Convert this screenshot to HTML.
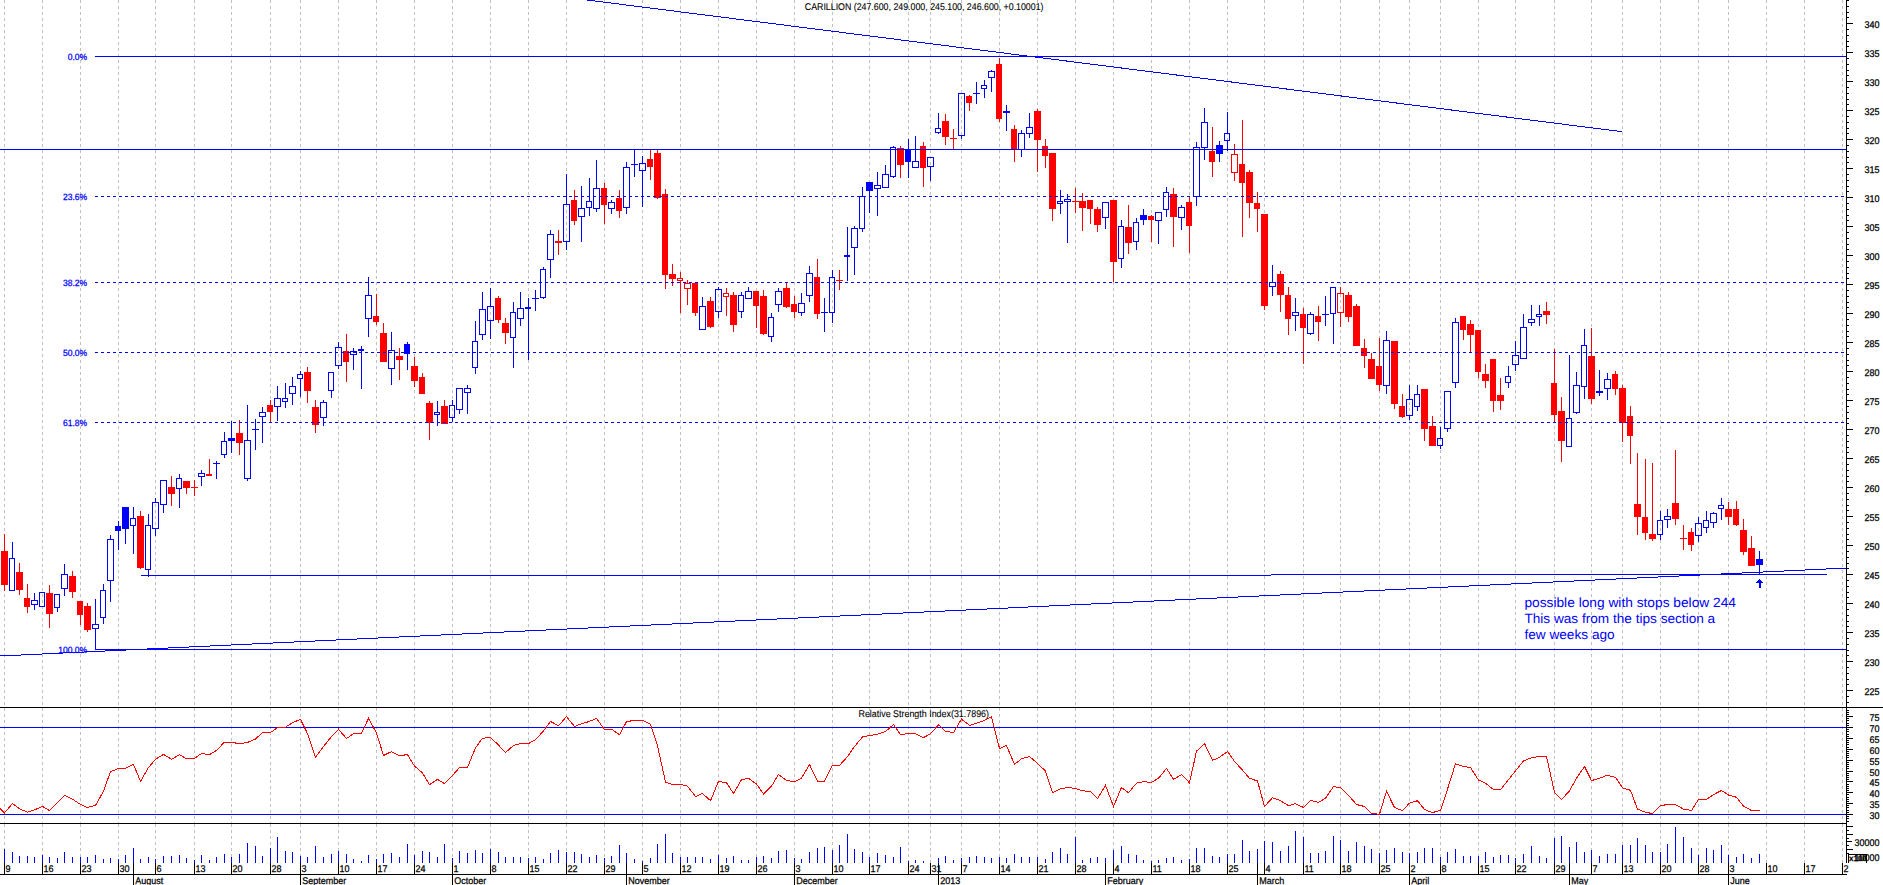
<!DOCTYPE html><html><head><meta charset="utf-8"><title>CARILLION chart</title>
<style>html,body{margin:0;padding:0;background:#fff;overflow:hidden}svg{display:block}text{font-family:"Liberation Sans",sans-serif}</style></head><body>
<svg width="1883" height="885" viewBox="0 0 1883 885" shape-rendering="crispEdges">
<rect width="1883" height="885" fill="#fff"/>
<path d="M4.5 0V707M4.5 708V823M4.5 824V863M42.5 0V707M42.5 708V823M42.5 824V863M80.5 0V707M80.5 708V823M80.5 824V863M118.5 0V707M118.5 708V823M118.5 824V863M155.5 0V707M155.5 708V823M155.5 824V863M194.5 0V707M194.5 708V823M194.5 824V863M231.5 0V707M231.5 708V823M231.5 824V863M270.5 0V707M270.5 708V823M270.5 824V863M300.5 0V707M300.5 708V823M300.5 824V863M338.5 0V707M338.5 708V823M338.5 824V863M376.5 0V707M376.5 708V823M376.5 824V863M414.5 0V707M414.5 708V823M414.5 824V863M452.5 0V707M452.5 708V823M452.5 824V863M490.5 0V707M490.5 708V823M490.5 824V863M528.5 0V707M528.5 708V823M528.5 824V863M566.5 0V707M566.5 708V823M566.5 824V863M604.5 0V707M604.5 708V823M604.5 824V863M642.5 0V707M642.5 708V823M642.5 824V863M680.5 0V707M680.5 708V823M680.5 824V863M718.5 0V707M718.5 708V823M718.5 824V863M756.5 0V707M756.5 708V823M756.5 824V863M794.5 0V707M794.5 708V823M794.5 824V863M832.5 0V707M832.5 708V823M832.5 824V863M869.5 0V707M869.5 708V823M869.5 824V863M908.5 0V707M908.5 708V823M908.5 824V863M930.5 0V707M930.5 708V823M930.5 824V863M961.5 0V707M961.5 708V823M961.5 824V863M999.5 0V707M999.5 708V823M999.5 824V863M1037.5 0V707M1037.5 708V823M1037.5 824V863M1075.5 0V707M1075.5 708V823M1075.5 824V863M1113.5 0V707M1113.5 708V823M1113.5 824V863M1151.5 0V707M1151.5 708V823M1151.5 824V863M1189.5 0V707M1189.5 708V823M1189.5 824V863M1227.5 0V707M1227.5 708V823M1227.5 824V863M1264.5 0V707M1264.5 708V823M1264.5 824V863M1303.5 0V707M1303.5 708V823M1303.5 824V863M1340.5 0V707M1340.5 708V823M1340.5 824V863M1379.5 0V707M1379.5 708V823M1379.5 824V863M1409.5 0V707M1409.5 708V823M1409.5 824V863M1440.5 0V707M1440.5 708V823M1440.5 824V863M1478.5 0V707M1478.5 708V823M1478.5 824V863M1515.5 0V707M1515.5 708V823M1515.5 824V863M1554.5 0V707M1554.5 708V823M1554.5 824V863M1591.5 0V707M1591.5 708V823M1591.5 824V863M1622.5 0V707M1622.5 708V823M1622.5 824V863M1660.5 0V707M1660.5 708V823M1660.5 824V863M1698.5 0V707M1698.5 708V823M1698.5 824V863M1728.5 0V707M1728.5 708V823M1728.5 824V863M1766.5 0V707M1766.5 708V823M1766.5 824V863M1804.5 0V707M1804.5 708V823M1804.5 824V863M1842.5 0V707M1842.5 708V823M1842.5 824V863" stroke="#c0c0c0" stroke-width="1" stroke-dasharray="3 3" fill="none"/>
<path d="M4.5 534V591M19.5 563V595M27.5 584V613M49.5 585V628M72.5 571V598M80.5 601V625M87.5 603V632M140.5 511V569M171.5 476V506M186.5 481V494M194.5 480V496M209.5 459V476M239.5 420V455M270.5 400V422M307.5 367V403M315.5 400V433M346.5 334V382M376.5 294V325M383.5 323V362M399.5 348V380M414.5 357V387M422.5 373V394M429.5 401V440M444.5 400V424M498.5 296V323M505.5 318V344M558.5 230V255M574.5 190V225M604.5 183V224M619.5 190V218M650.5 149V180M657.5 149V199M665.5 189V289M672.5 264V286M680.5 272V278M680.5 281V313M687.5 280V283M687.5 289V305M695.5 283V316M710.5 297V328M726.5 288V293M726.5 297V316M733.5 292V332M756.5 291V328M763.5 290V335M786.5 282V308M794.5 296V318M817.5 259V319M839.5 270V290M900.5 146V178M923.5 142V187M945.5 114V145M953.5 129V150M969.5 95V111M999.5 58V122M1014.5 125V162M1037.5 109V172M1045.5 139V168M1052.5 153V221M1075.5 188V213M1082.5 193V231M1090.5 200V224M1097.5 207V232M1113.5 200V282M1128.5 205V254M1151.5 215V242M1173.5 188V247M1189.5 196V253M1212.5 127V177M1234.5 144V154M1234.5 173V181M1242.5 120V237M1249.5 170V218M1257.5 192V232M1264.5 214V310M1280.5 271V312M1288.5 287V335M1303.5 308V364M1318.5 306V341M1340.5 287V293M1340.5 313V327M1348.5 292V322M1356.5 304V346M1364.5 339V368M1371.5 353V379M1379.5 338V391M1394.5 341V409M1402.5 394V418M1424.5 389V441M1432.5 416V446M1463.5 316V340M1470.5 320V353M1478.5 330V378M1485.5 364V388M1493.5 359V412M1500.5 378V410M1546.5 302V324M1554.5 349V423M1561.5 397V462M1591.5 328V404M1615.5 371V395M1622.5 385V442M1630.5 406V464M1637.5 453V535M1645.5 459V540M1652.5 463V541M1675.5 450V525M1683.5 525V550M1691.5 528V551M1728.5 502V525M1736.5 501V526M1743.5 519V555M1751.5 536V566" stroke="#ff0000" stroke-width="1" fill="none"/>
<path d="M12.5 542V558M34.5 593V600M34.5 605V610M57.5 608V612M64.5 564V574M64.5 589V596M95.5 599V624M95.5 629V650M103.5 584V590M103.5 618V624M110.5 535V539M110.5 581V602M118.5 521V550M125.5 507V544M133.5 507V518M133.5 526V554M148.5 514V525M148.5 570V577M155.5 498V502M155.5 529V536M163.5 505V513M179.5 474V478M179.5 489V508M201.5 470V473M201.5 477V486M216.5 461V479M224.5 432V441M224.5 455V458M231.5 421V453M247.5 405V440M247.5 479V481M255.5 419V450M262.5 407V412M262.5 417V443M277.5 386V398M277.5 407V421M285.5 383V398M285.5 402V408M292.5 377V386M292.5 394V405M300.5 371V374M300.5 379V397M323.5 400V402M323.5 418V426M331.5 391V398M338.5 342V347M338.5 366V369M353.5 348V351M353.5 355V370M361.5 346V389M368.5 277V295M368.5 319V337M391.5 332V350M391.5 369V385M407.5 342V370M437.5 401V412M437.5 415V426M452.5 400V405M452.5 418V422M459.5 410V414M467.5 385V388M467.5 393V414M475.5 321V341M475.5 368V374M482.5 292V309M482.5 335V340M490.5 288V306M490.5 321V339M513.5 302V312M513.5 338V368M520.5 292V308M520.5 319V326M528.5 298V360M535.5 290V311M543.5 267V269M543.5 298V299M550.5 230V234M550.5 260V278M566.5 174V204M566.5 242V250M581.5 186V208M581.5 217V242M589.5 178V201M589.5 208V216M596.5 160V188M596.5 209V212M611.5 200V202M611.5 209V214M626.5 162V167M626.5 208V214M634.5 149V177M642.5 156V163M642.5 171V207M702.5 297V306M718.5 287V289M718.5 312V318M741.5 292V295M741.5 312V318M748.5 287V291M771.5 313V317M771.5 337V342M778.5 288V291M778.5 305V312M801.5 293V303M801.5 313V316M809.5 266V273M809.5 296V302M824.5 298V332M832.5 270V277M832.5 313V323M847.5 227V281M854.5 226V228M854.5 248V275M862.5 187V196M862.5 229V232M869.5 182V213M877.5 172V185M877.5 189V216M885.5 165V174M893.5 146V147M893.5 177V178M908.5 139V178M915.5 136V161M930.5 167V181M938.5 113V128M938.5 133V134M961.5 136V139M976.5 82V104M984.5 80V85M984.5 89V98M991.5 70V71M991.5 78V92M1006.5 105V131M1021.5 130V133M1021.5 150V157M1029.5 113V127M1029.5 134V138M1060.5 190V201M1060.5 204V214M1067.5 194V199M1067.5 202V243M1105.5 218V229M1121.5 220V226M1121.5 259V268M1136.5 218V222M1136.5 242V250M1143.5 209V225M1158.5 221V244M1166.5 187V192M1166.5 210V217M1181.5 205V207M1181.5 218V230M1196.5 142V147M1196.5 197V206M1204.5 108V122M1204.5 148V160M1219.5 141V162M1227.5 112V133M1227.5 141V151M1272.5 265V282M1272.5 287V296M1295.5 298V312M1295.5 316V331M1310.5 312V314M1310.5 334V335M1325.5 296V326M1333.5 314V344M1386.5 331V340M1386.5 386V394M1409.5 385V399M1409.5 416V420M1417.5 385V394M1417.5 407V411M1440.5 427V438M1440.5 446V449M1447.5 429V432M1455.5 318V322M1455.5 383V388M1508.5 366V376M1508.5 383V388M1515.5 341V355M1515.5 365V371M1523.5 314V327M1531.5 305V319M1531.5 323V326M1539.5 305V314M1539.5 317V326M1569.5 355V418M1576.5 372V385M1576.5 413V414M1584.5 329V345M1584.5 387V399M1599.5 370V391M1599.5 393V396M1607.5 373V379M1607.5 389V400M1660.5 511V520M1660.5 535V540M1667.5 509V516M1667.5 520V528M1698.5 517V523M1698.5 536V542M1706.5 511V520M1706.5 528V533M1713.5 512V513M1713.5 523V528M1721.5 498V505M1721.5 509V520M1759.5 551V575" stroke="#0000ff" stroke-width="1" fill="none"/>
<path d="M1 551h7V585h-7zM16 572h7V590h-7zM24 598h6V607h-6zM46 593h7V614h-7zM69 576h7V592h-7zM77 601h6V615h-6zM84 606h7V630h-7zM137 516h7V568h-7zM168 487h7V494h-7zM183 481h7V488h-7zM191 487h7v1h-7zM206 474h6V476h-6zM236 433h7V443h-7zM267 405h6V412h-6zM304 372h7V391h-7zM312 407h7V425h-7zM343 351h6V362h-6zM373 316h6V322h-6zM380 333h7V362h-7zM396 356h7V360h-7zM411 366h7V381h-7zM419 377h6V394h-6zM426 403h7V423h-7zM441 406h7V424h-7zM495 298h6V320h-6zM502 323h7V333h-7zM555 241h7V243h-7zM571 200h6V221h-6zM601 188h6V205h-6zM616 198h6V211h-6zM647 159h6V167h-6zM654 153h7V198h-7zM662 194h6V275h-6zM669 274h7V279h-7zM692 283h6V313h-6zM707 301h7V327h-7zM730 295h7V325h-7zM753 291h6V306h-6zM760 296h7V334h-7zM783 288h7V307h-7zM791 304h6V312h-6zM814 277h6V314h-6zM836 280h7v1h-7zM897 148h7V165h-7zM920 146h6V168h-6zM942 121h7V137h-7zM950 138h7v1h-7zM966 96h6V103h-6zM996 64h6V119h-6zM1011 129h6V149h-6zM1034 111h7V140h-7zM1042 146h6V156h-6zM1049 153h7V209h-7zM1072 201h7v1h-7zM1079 201h7V208h-7zM1087 200h6V209h-6zM1094 209h7V225h-7zM1110 200h7V262h-7zM1125 227h7V243h-7zM1148 216h6V220h-6zM1170 194h7V217h-7zM1186 202h6V226h-6zM1209 151h6V162h-6zM1239 164h6V183h-6zM1246 172h7V203h-7zM1254 203h6V209h-6zM1261 214h7V306h-7zM1277 274h7V295h-7zM1285 295h6V319h-6zM1300 314h6V328h-6zM1315 316h6V322h-6zM1345 295h7V317h-7zM1353 306h7V346h-7zM1361 348h6V356h-6zM1368 359h7V379h-7zM1376 366h6V385h-6zM1391 341h7V404h-7zM1399 406h6V417h-6zM1421 389h7V429h-7zM1429 426h7V446h-7zM1460 316h6V330h-6zM1467 324h7V335h-7zM1475 330h6V372h-6zM1482 374h7V381h-7zM1490 359h6V401h-6zM1497 395h7V401h-7zM1543 311h7V315h-7zM1551 383h6V415h-6zM1558 411h7V441h-7zM1588 356h7V399h-7zM1612 374h6V389h-6zM1619 388h7V423h-7zM1627 416h6V436h-6zM1634 504h7V517h-7zM1642 517h6V533h-6zM1649 534h7V539h-7zM1672 503h7V519h-7zM1680 538h7v1h-7zM1688 532h6V545h-6zM1725 509h7V517h-7zM1733 509h6V525h-6zM1740 530h7V552h-7zM1748 548h7V566h-7z" fill="#ff0000"/>
<path d="M115 526h6V531h-6zM122 507h7V529h-7zM213 463h7v1h-7zM228 438h7V441h-7zM252 429h7v1h-7zM358 349h6V351h-6zM404 344h6V354h-6zM525 307h6V309h-6zM532 298h7v1h-7zM631 164h7v1h-7zM821 312h7v1h-7zM844 255h6V257h-6zM866 182h7V191h-7zM905 149h6V162h-6zM973 93h7v1h-7zM1003 111h7V113h-7zM1140 215h7V220h-7zM1216 145h7V154h-7zM1322 314h7v1h-7zM1756 559h7V565h-7z" fill="#0000ff"/>
<path d="M9.5 558.5h5v32h-5zM31.5 600.5h6v4h-6zM39.5 592.5h5v14h-5zM54.5 594.5h5v13h-5zM61.5 574.5h6v14h-6zM92.5 624.5h6v4h-6zM100.5 590.5h5v27h-5zM107.5 539.5h6v41h-6zM130.5 518.5h5v7h-5zM145.5 525.5h5v44h-5zM152.5 502.5h6v26h-6zM160.5 480.5h6v24h-6zM176.5 478.5h5v10h-5zM198.5 473.5h6v3h-6zM221.5 441.5h5v13h-5zM244.5 440.5h6v38h-6zM259.5 412.5h6v4h-6zM274.5 398.5h6v8h-6zM282.5 398.5h5v3h-5zM289.5 386.5h6v7h-6zM297.5 374.5h5v4h-5zM320.5 402.5h6v15h-6zM328.5 372.5h5v18h-5zM335.5 347.5h6v18h-6zM350.5 351.5h6v3h-6zM365.5 295.5h6v23h-6zM388.5 350.5h6v18h-6zM434.5 412.5h5v2h-5zM449.5 405.5h5v12h-5zM456.5 388.5h6v21h-6zM464.5 388.5h6v4h-6zM472.5 341.5h5v26h-5zM479.5 309.5h6v25h-6zM487.5 306.5h6v14h-6zM510.5 312.5h5v25h-5zM517.5 308.5h6v10h-6zM540.5 269.5h5v28h-5zM547.5 234.5h6v25h-6zM563.5 204.5h6v37h-6zM578.5 208.5h6v8h-6zM586.5 201.5h5v6h-5zM593.5 188.5h6v20h-6zM608.5 202.5h6v6h-6zM623.5 167.5h6v40h-6zM639.5 163.5h6v7h-6zM699.5 306.5h6v23h-6zM715.5 289.5h6v22h-6zM738.5 295.5h5v16h-5zM745.5 291.5h6v7h-6zM768.5 317.5h5v19h-5zM775.5 291.5h6v13h-6zM798.5 303.5h6v9h-6zM806.5 273.5h6v22h-6zM829.5 277.5h5v35h-5zM851.5 228.5h6v19h-6zM859.5 196.5h5v32h-5zM874.5 185.5h6v3h-6zM882.5 174.5h6v13h-6zM890.5 147.5h5v29h-5zM912.5 161.5h6v6h-6zM927.5 157.5h6v9h-6zM935.5 128.5h5v4h-5zM958.5 93.5h6v42h-6zM981.5 85.5h5v3h-5zM988.5 71.5h6v6h-6zM1018.5 133.5h6v16h-6zM1026.5 127.5h6v6h-6zM1057.5 201.5h5v2h-5zM1064.5 199.5h6v2h-6zM1102.5 202.5h6v15h-6zM1118.5 226.5h5v32h-5zM1133.5 222.5h5v19h-5zM1155.5 212.5h6v8h-6zM1163.5 192.5h5v17h-5zM1178.5 207.5h6v10h-6zM1193.5 147.5h6v49h-6zM1201.5 122.5h6v25h-6zM1224.5 133.5h5v7h-5zM1269.5 282.5h6v4h-6zM1292.5 312.5h6v3h-6zM1307.5 314.5h6v19h-6zM1330.5 287.5h5v26h-5zM1383.5 340.5h6v45h-6zM1406.5 399.5h6v16h-6zM1414.5 394.5h5v12h-5zM1437.5 438.5h5v7h-5zM1444.5 391.5h6v37h-6zM1452.5 322.5h6v60h-6zM1505.5 376.5h5v6h-5zM1512.5 355.5h6v9h-6zM1520.5 327.5h6v31h-6zM1528.5 319.5h6v3h-6zM1536.5 314.5h5v2h-5zM1566.5 418.5h5v28h-5zM1573.5 385.5h6v27h-6zM1581.5 345.5h5v41h-5zM1596.5 391.5h6v1h-6zM1604.5 379.5h6v9h-6zM1657.5 520.5h5v14h-5zM1664.5 516.5h6v3h-6zM1695.5 523.5h6v12h-6zM1703.5 520.5h5v7h-5zM1710.5 513.5h6v9h-6zM1718.5 505.5h5v3h-5z" stroke="#0000ff" stroke-width="1" fill="none"/>
<path d="M677.5 278.5h5v2h-5zM684.5 283.5h6v5h-6zM723.5 293.5h5v3h-5zM1231.5 154.5h6v18h-6zM1337.5 293.5h6v19h-6z" stroke="#ff0000" stroke-width="1" fill="none"/>
<path d="M95 56.5H1846M0 149.5H1846M95 649.5H1846M141 575.5L1827 574.766M0 727.5H1846M0 814.5H1846" stroke="#0000ff" stroke-width="1" fill="none"/>
<path d="M95 196.5H1846M95 282.5H1846M95 352.5H1846M95 422.5H1846" stroke="#0000ff" stroke-width="1" stroke-dasharray="3 3" fill="none"/>
<path d="M587.1 0L1622 131.7M0 656.02L1846 568.05" stroke="#0000ff" stroke-width="1" fill="none"/>
<path d="M1759 579h1v1h1v1h1v1h1v1h-2v5h-2v-5h-3v-1h1v-1h1v-1h1z" fill="#0000ff"/>
<polyline points="-3.6,804.7 4.5,812.9 12.5,803.4 19.5,808.8 27.5,812.2 34.5,809.9 42.5,806.4 49.5,810.6 57.5,802.7 64.5,795.3 72.5,799.1 80.5,804.5 87.5,807.5 95.5,805.4 103.5,791.2 110.5,771.5 118.5,768.6 125.5,768.1 133.5,764.4 140.5,781.4 148.5,767.5 155.5,759.3 163.5,754.3 171.5,759.3 179.5,754.6 186.5,758.7 194.5,758.4 201.5,753.5 209.5,754.6 216.5,750.5 224.5,742.1 231.5,742.3 239.5,743.7 247.5,742.4 255.5,739.0 262.5,732.6 270.5,732.6 277.5,727.5 285.5,727.2 292.5,722.7 300.5,719.3 307.5,733.6 315.5,757.3 323.5,746.5 331.5,736.6 338.5,729.2 346.5,738.6 353.5,733.6 361.5,733.3 368.5,718.4 376.5,732.9 383.5,755.5 391.5,751.6 399.5,755.7 407.5,754.6 414.5,766.1 422.5,772.9 429.5,784.7 437.5,779.4 444.5,783.7 452.5,775.6 459.5,767.5 467.5,767.5 475.5,747.8 482.5,738.3 490.5,737.4 498.5,745.1 505.5,752.6 513.5,745.4 520.5,743.7 528.5,743.5 535.5,739.7 543.5,730.9 550.5,721.4 558.5,725.7 566.5,716.6 574.5,726.5 581.5,723.8 589.5,721.4 596.5,718.4 604.5,729.5 611.5,729.2 619.5,734.7 626.5,721.6 634.5,720.4 642.5,720.4 650.5,724.1 657.5,745.8 665.5,782.1 672.5,784.4 680.5,784.4 687.5,786.1 695.5,796.6 702.5,793.5 710.5,800.7 718.5,781.4 726.5,782.7 733.5,793.5 741.5,779.7 748.5,778.3 756.5,784.1 763.5,793.9 771.5,786.2 778.5,774.5 786.5,780.4 794.5,781.7 801.5,778.1 809.5,764.5 817.5,781.4 824.5,781.4 832.5,765.4 839.5,765.4 847.5,756.6 854.5,746.5 862.5,737.0 869.5,735.6 877.5,734.3 885.5,731.5 893.5,724.5 900.5,734.5 908.5,733.6 915.5,733.6 923.5,737.6 930.5,733.8 938.5,724.8 945.5,731.3 953.5,732.6 961.5,719.1 969.5,725.4 976.5,723.1 984.5,720.4 991.5,716.9 999.5,748.5 1006.5,745.5 1014.5,764.5 1021.5,758.7 1029.5,756.6 1037.5,763.4 1045.5,771.1 1052.5,792.6 1060.5,788.9 1067.5,787.4 1075.5,788.5 1082.5,790.8 1090.5,791.5 1097.5,798.7 1105.5,785.4 1113.5,806.4 1121.5,787.4 1128.5,792.8 1136.5,783.1 1143.5,781.7 1151.5,782.4 1158.5,778.3 1166.5,768.4 1173.5,779.4 1181.5,774.7 1189.5,782.8 1196.5,751.2 1204.5,743.5 1212.5,760.4 1219.5,757.3 1227.5,751.5 1234.5,761.4 1242.5,770.2 1249.5,778.3 1257.5,781.0 1264.5,806.5 1272.5,797.7 1280.5,800.7 1288.5,805.7 1295.5,803.7 1303.5,807.5 1310.5,800.4 1318.5,802.5 1325.5,798.3 1333.5,786.5 1340.5,787.8 1348.5,795.3 1356.5,804.5 1364.5,806.5 1371.5,813.3 1379.5,814.3 1386.5,791.2 1394.5,807.5 1402.5,810.6 1409.5,803.1 1417.5,800.7 1424.5,809.5 1432.5,812.6 1440.5,810.2 1447.5,789.2 1455.5,763.7 1463.5,766.5 1470.5,767.5 1478.5,780.1 1485.5,783.1 1493.5,789.6 1500.5,789.6 1508.5,779.7 1515.5,770.9 1523.5,761.0 1531.5,757.7 1539.5,756.4 1546.5,756.4 1554.5,792.3 1561.5,799.6 1569.5,790.9 1576.5,778.3 1584.5,766.5 1591.5,780.6 1599.5,778.3 1607.5,775.2 1615.5,777.4 1622.5,787.8 1630.5,790.3 1637.5,809.2 1645.5,812.2 1652.5,813.6 1660.5,805.7 1667.5,804.5 1675.5,804.5 1683.5,809.1 1691.5,810.5 1698.5,799.3 1706.5,799.3 1713.5,794.6 1721.5,790.5 1728.5,795.0 1736.5,797.3 1743.5,806.1 1751.5,810.5 1759.5,810.5" stroke="#ff0000" stroke-width="1" fill="none"/>
<path d="M4.5 849V863M12.5 852V863M19.5 856V863M27.5 856V863M34.5 857V863M42.5 855V863M49.5 857V863M57.5 858V863M64.5 852V863M72.5 857V863M80.5 857V863M87.5 857V863M95.5 855V863M103.5 859V863M110.5 858V863M118.5 859V863M125.5 855V863M133.5 848V863M140.5 859V863M148.5 857V863M155.5 859V863M163.5 856V863M171.5 856V863M179.5 855V863M186.5 858V863M194.5 860V863M201.5 855V863M209.5 860V863M216.5 857V863M224.5 854V863M231.5 857V863M239.5 854V863M247.5 843V863M255.5 846V863M262.5 856V863M270.5 848V863M277.5 837V863M285.5 851V863M292.5 852V863M300.5 856V863M307.5 857V863M315.5 846V863M323.5 857V863M331.5 854V863M338.5 851V863M346.5 854V863M353.5 859V863M361.5 861V863M368.5 855V863M376.5 859V863M383.5 854V863M391.5 853V863M399.5 857V863M407.5 844V863M414.5 855V863M422.5 851V863M429.5 852V863M437.5 857V863M444.5 844V863M452.5 858V863M459.5 851V863M467.5 853V863M475.5 850V863M482.5 853V863M490.5 849V863M498.5 852V863M505.5 857V863M513.5 857V863M520.5 857V863M528.5 858V863M535.5 857V863M543.5 859V863M550.5 853V863M558.5 850V863M566.5 852V863M574.5 852V863M581.5 854V863M589.5 857V863M596.5 855V863M604.5 858V863M611.5 856V863M619.5 845V863M626.5 853V863M634.5 859V863M642.5 861V863M650.5 858V863M657.5 844V863M665.5 834V863M672.5 853V863M680.5 857V863M687.5 857V863M695.5 857V863M702.5 857V863M710.5 859V863M718.5 855V863M726.5 858V863M733.5 856V863M741.5 860V863M748.5 860V863M756.5 857V863M763.5 856V863M771.5 858V863M778.5 851V863M786.5 850V863M794.5 858V863M801.5 859V863M809.5 852V863M817.5 848V863M824.5 847V863M832.5 850V863M839.5 845V863M847.5 834V863M854.5 849V863M862.5 852V863M869.5 857V863M877.5 853V863M885.5 855V863M893.5 857V863M900.5 847V863M908.5 861V863M915.5 860V863M923.5 861V863M938.5 858V863M945.5 856V863M953.5 860V863M961.5 858V863M969.5 857V863M976.5 856V863M984.5 857V863M991.5 858V863M999.5 857V863M1006.5 858V863M1014.5 854V863M1021.5 857V863M1029.5 857V863M1037.5 857V863M1045.5 859V863M1052.5 852V863M1060.5 848V863M1067.5 854V863M1075.5 837V863M1082.5 860V863M1090.5 858V863M1097.5 857V863M1105.5 858V863M1113.5 850V863M1121.5 846V863M1128.5 854V863M1136.5 855V863M1143.5 860V863M1151.5 861V863M1158.5 860V863M1166.5 858V863M1173.5 857V863M1181.5 860V863M1189.5 859V863M1196.5 848V863M1204.5 848V863M1212.5 856V863M1219.5 857V863M1227.5 854V863M1234.5 854V863M1242.5 840V863M1249.5 851V863M1257.5 849V863M1264.5 841V863M1272.5 842V863M1280.5 851V863M1288.5 846V863M1295.5 831V863M1303.5 837V863M1310.5 853V863M1318.5 853V863M1325.5 851V863M1333.5 836V863M1340.5 840V863M1348.5 851V863M1356.5 842V863M1364.5 846V863M1371.5 849V863M1379.5 853V863M1386.5 850V863M1394.5 848V863M1402.5 852V863M1409.5 853V863M1417.5 852V863M1424.5 848V863M1432.5 848V863M1440.5 857V863M1447.5 852V863M1455.5 849V863M1463.5 856V863M1470.5 856V863M1478.5 856V863M1485.5 852V863M1493.5 857V863M1500.5 855V863M1508.5 855V863M1515.5 858V863M1523.5 854V863M1531.5 846V863M1539.5 856V863M1546.5 858V863M1554.5 838V863M1561.5 836V863M1569.5 847V863M1576.5 842V863M1584.5 852V863M1591.5 850V863M1599.5 856V863M1607.5 854V863M1615.5 854V863M1622.5 845V863M1630.5 845V863M1637.5 838V863M1645.5 845V863M1652.5 852V863M1660.5 852V863M1667.5 844V863M1675.5 827V863M1683.5 837V863M1691.5 848V863M1698.5 855V863M1706.5 848V863M1713.5 850V863M1721.5 845V863M1728.5 855V863M1736.5 857V863M1743.5 854V863M1751.5 858V863M1759.5 854V863" stroke="#0000ff" stroke-width="1" fill="none"/>
<path d="M0 707.5H1883M0 823.5H1847M0 874.5H1847M1846.5 0V863M4.5 863V874M42.5 863V874M80.5 863V874M118.5 863V874M155.5 863V874M194.5 863V874M231.5 863V874M270.5 863V874M338.5 863V874M376.5 863V874M414.5 863V874M490.5 863V874M528.5 863V874M566.5 863V874M604.5 863V874M642.5 863V874M680.5 863V874M718.5 863V874M756.5 863V874M832.5 863V874M869.5 863V874M908.5 863V874M930.5 863V874M961.5 863V874M999.5 863V874M1037.5 863V874M1075.5 863V874M1113.5 863V874M1151.5 863V874M1189.5 863V874M1227.5 863V874M1264.5 863V874M1303.5 863V874M1340.5 863V874M1379.5 863V874M1440.5 863V874M1478.5 863V874M1515.5 863V874M1554.5 863V874M1591.5 863V874M1622.5 863V874M1660.5 863V874M1698.5 863V874M1766.5 863V874M1804.5 863V874M1842.5 863V874M133.5 863V885M300.5 863V885M452.5 863V885M626.5 863V885M794.5 863V885M938.5 863V885M1105.5 863V885M1257.5 863V885M1409.5 863V885M1569.5 863V885M1728.5 863V885M1847 0.5h2M1847 6.5h2M1847 12.5h2M1847 17.5h2M1847 23.5h6M1847 29.5h2M1847 35.5h2M1847 41.5h2M1847 46.5h2M1847 52.5h6M1847 58.5h2M1847 64.5h2M1847 70.5h2M1847 75.5h2M1847 81.5h6M1847 87.5h2M1847 93.5h2M1847 99.5h2M1847 104.5h2M1847 110.5h6M1847 116.5h2M1847 122.5h2M1847 128.5h2M1847 133.5h2M1847 139.5h6M1847 145.5h2M1847 151.5h2M1847 157.5h2M1847 162.5h2M1847 168.5h6M1847 174.5h2M1847 180.5h2M1847 186.5h2M1847 191.5h2M1847 197.5h6M1847 203.5h2M1847 209.5h2M1847 215.5h2M1847 220.5h2M1847 226.5h6M1847 232.5h2M1847 238.5h2M1847 244.5h2M1847 249.5h2M1847 255.5h6M1847 261.5h2M1847 267.5h2M1847 273.5h2M1847 278.5h2M1847 284.5h6M1847 290.5h2M1847 296.5h2M1847 302.5h2M1847 307.5h2M1847 313.5h6M1847 319.5h2M1847 325.5h2M1847 331.5h2M1847 336.5h2M1847 342.5h6M1847 348.5h2M1847 354.5h2M1847 360.5h2M1847 365.5h2M1847 371.5h6M1847 377.5h2M1847 383.5h2M1847 389.5h2M1847 394.5h2M1847 400.5h6M1847 406.5h2M1847 412.5h2M1847 418.5h2M1847 423.5h2M1847 429.5h6M1847 435.5h2M1847 441.5h2M1847 447.5h2M1847 452.5h2M1847 458.5h6M1847 464.5h2M1847 470.5h2M1847 476.5h2M1847 481.5h2M1847 487.5h6M1847 493.5h2M1847 499.5h2M1847 505.5h2M1847 510.5h2M1847 516.5h6M1847 522.5h2M1847 528.5h2M1847 534.5h2M1847 539.5h2M1847 545.5h6M1847 551.5h2M1847 557.5h2M1847 563.5h2M1847 568.5h2M1847 574.5h6M1847 580.5h2M1847 586.5h2M1847 592.5h2M1847 597.5h2M1847 603.5h6M1847 609.5h2M1847 615.5h2M1847 621.5h2M1847 626.5h2M1847 632.5h6M1847 638.5h2M1847 644.5h2M1847 650.5h2M1847 655.5h2M1847 661.5h6M1847 667.5h2M1847 673.5h2M1847 679.5h2M1847 684.5h2M1847 690.5h6M1847 696.5h2M1847 702.5h2M1847 821.5h2M1847 818.5h2M1847 816.5h2M1847 814.5h6M1847 812.5h2M1847 810.5h2M1847 807.5h2M1847 805.5h2M1847 803.5h6M1847 801.5h2M1847 799.5h2M1847 797.5h2M1847 794.5h2M1847 792.5h6M1847 790.5h2M1847 788.5h2M1847 786.5h2M1847 784.5h2M1847 781.5h6M1847 779.5h2M1847 777.5h2M1847 775.5h2M1847 773.5h2M1847 771.5h6M1847 768.5h2M1847 766.5h2M1847 764.5h2M1847 762.5h2M1847 760.5h6M1847 757.5h2M1847 755.5h2M1847 753.5h2M1847 751.5h2M1847 749.5h6M1847 747.5h2M1847 744.5h2M1847 742.5h2M1847 740.5h2M1847 738.5h6M1847 736.5h2M1847 734.5h2M1847 731.5h2M1847 729.5h2M1847 727.5h6M1847 725.5h2M1847 723.5h2M1847 720.5h2M1847 718.5h2M1847 716.5h6M1847 714.5h2M1847 712.5h2M1847 710.5h2M1847 826.5h6M1847 830.5h2M1847 834.5h6M1847 838.5h2M1847 841.5h5M1847 845.5h2M1847 849.5h6M1847 853.5h2M1848 854.5H1867M1848.5 854V863M1866.5 854V863" stroke="#000" stroke-width="1" fill="none"/>
<defs><clipPath id="cp"><rect x="0" y="860" width="1846" height="20"/></clipPath></defs>
<g shape-rendering="auto" text-rendering="geometricPrecision"><text transform="translate(1879.5 27.8) scale(0.93 1)" font-size="9.7" fill="#000" text-anchor="end" stroke="#000" stroke-width="0.25">340</text><text transform="translate(1879.5 56.8) scale(0.93 1)" font-size="9.7" fill="#000" text-anchor="end" stroke="#000" stroke-width="0.25">335</text><text transform="translate(1879.5 85.8) scale(0.93 1)" font-size="9.7" fill="#000" text-anchor="end" stroke="#000" stroke-width="0.25">330</text><text transform="translate(1879.5 114.8) scale(0.93 1)" font-size="9.7" fill="#000" text-anchor="end" stroke="#000" stroke-width="0.25">325</text><text transform="translate(1879.5 143.8) scale(0.93 1)" font-size="9.7" fill="#000" text-anchor="end" stroke="#000" stroke-width="0.25">320</text><text transform="translate(1879.5 172.8) scale(0.93 1)" font-size="9.7" fill="#000" text-anchor="end" stroke="#000" stroke-width="0.25">315</text><text transform="translate(1879.5 201.8) scale(0.93 1)" font-size="9.7" fill="#000" text-anchor="end" stroke="#000" stroke-width="0.25">310</text><text transform="translate(1879.5 230.8) scale(0.93 1)" font-size="9.7" fill="#000" text-anchor="end" stroke="#000" stroke-width="0.25">305</text><text transform="translate(1879.5 259.8) scale(0.93 1)" font-size="9.7" fill="#000" text-anchor="end" stroke="#000" stroke-width="0.25">300</text><text transform="translate(1879.5 288.8) scale(0.93 1)" font-size="9.7" fill="#000" text-anchor="end" stroke="#000" stroke-width="0.25">295</text><text transform="translate(1879.5 317.8) scale(0.93 1)" font-size="9.7" fill="#000" text-anchor="end" stroke="#000" stroke-width="0.25">290</text><text transform="translate(1879.5 346.8) scale(0.93 1)" font-size="9.7" fill="#000" text-anchor="end" stroke="#000" stroke-width="0.25">285</text><text transform="translate(1879.5 375.8) scale(0.93 1)" font-size="9.7" fill="#000" text-anchor="end" stroke="#000" stroke-width="0.25">280</text><text transform="translate(1879.5 404.8) scale(0.93 1)" font-size="9.7" fill="#000" text-anchor="end" stroke="#000" stroke-width="0.25">275</text><text transform="translate(1879.5 433.8) scale(0.93 1)" font-size="9.7" fill="#000" text-anchor="end" stroke="#000" stroke-width="0.25">270</text><text transform="translate(1879.5 462.8) scale(0.93 1)" font-size="9.7" fill="#000" text-anchor="end" stroke="#000" stroke-width="0.25">265</text><text transform="translate(1879.5 491.8) scale(0.93 1)" font-size="9.7" fill="#000" text-anchor="end" stroke="#000" stroke-width="0.25">260</text><text transform="translate(1879.5 520.8) scale(0.93 1)" font-size="9.7" fill="#000" text-anchor="end" stroke="#000" stroke-width="0.25">255</text><text transform="translate(1879.5 549.8) scale(0.93 1)" font-size="9.7" fill="#000" text-anchor="end" stroke="#000" stroke-width="0.25">250</text><text transform="translate(1879.5 578.8) scale(0.93 1)" font-size="9.7" fill="#000" text-anchor="end" stroke="#000" stroke-width="0.25">245</text><text transform="translate(1879.5 607.8) scale(0.93 1)" font-size="9.7" fill="#000" text-anchor="end" stroke="#000" stroke-width="0.25">240</text><text transform="translate(1879.5 636.8) scale(0.93 1)" font-size="9.7" fill="#000" text-anchor="end" stroke="#000" stroke-width="0.25">235</text><text transform="translate(1879.5 665.8) scale(0.93 1)" font-size="9.7" fill="#000" text-anchor="end" stroke="#000" stroke-width="0.25">230</text><text transform="translate(1879.5 694.8) scale(0.93 1)" font-size="9.7" fill="#000" text-anchor="end" stroke="#000" stroke-width="0.25">225</text><text transform="translate(1879.5 720.5) scale(0.93 1)" font-size="9.7" fill="#000" text-anchor="end" stroke="#000" stroke-width="0.25">75</text><text transform="translate(1879.5 731.5) scale(0.93 1)" font-size="9.7" fill="#000" text-anchor="end" stroke="#000" stroke-width="0.25">70</text><text transform="translate(1879.5 742.5) scale(0.93 1)" font-size="9.7" fill="#000" text-anchor="end" stroke="#000" stroke-width="0.25">65</text><text transform="translate(1879.5 753.5) scale(0.93 1)" font-size="9.7" fill="#000" text-anchor="end" stroke="#000" stroke-width="0.25">60</text><text transform="translate(1879.5 764.5) scale(0.93 1)" font-size="9.7" fill="#000" text-anchor="end" stroke="#000" stroke-width="0.25">55</text><text transform="translate(1879.5 775.5) scale(0.93 1)" font-size="9.7" fill="#000" text-anchor="end" stroke="#000" stroke-width="0.25">50</text><text transform="translate(1879.5 785.5) scale(0.93 1)" font-size="9.7" fill="#000" text-anchor="end" stroke="#000" stroke-width="0.25">45</text><text transform="translate(1879.5 796.5) scale(0.93 1)" font-size="9.7" fill="#000" text-anchor="end" stroke="#000" stroke-width="0.25">40</text><text transform="translate(1879.5 807.5) scale(0.93 1)" font-size="9.7" fill="#000" text-anchor="end" stroke="#000" stroke-width="0.25">35</text><text transform="translate(1879.5 818.5) scale(0.93 1)" font-size="9.7" fill="#000" text-anchor="end" stroke="#000" stroke-width="0.25">30</text><text transform="translate(1879.5 846.2) scale(0.93 1)" font-size="9.7" fill="#000" text-anchor="end" stroke="#000" stroke-width="0.25">30000</text><text transform="translate(1879.5 860.7) scale(0.93 1)" font-size="9.7" fill="#000" text-anchor="end" stroke="#000" stroke-width="0.25">10000</text><text x="1849" y="860.5" font-size="8" fill="#000" stroke="#000" stroke-width="0.25" font-weight="bold">x100</text><text transform="translate(5.4 871.7) scale(0.93 1)" font-size="9.7" fill="#000" stroke="#000" stroke-width="0.25">9</text><text transform="translate(43.4 871.7) scale(0.93 1)" font-size="9.7" fill="#000" stroke="#000" stroke-width="0.25">16</text><text transform="translate(81.4 871.7) scale(0.93 1)" font-size="9.7" fill="#000" stroke="#000" stroke-width="0.25">23</text><text transform="translate(119.4 871.7) scale(0.93 1)" font-size="9.7" fill="#000" stroke="#000" stroke-width="0.25">30</text><text transform="translate(156.4 871.7) scale(0.93 1)" font-size="9.7" fill="#000" stroke="#000" stroke-width="0.25">6</text><text transform="translate(195.4 871.7) scale(0.93 1)" font-size="9.7" fill="#000" stroke="#000" stroke-width="0.25">13</text><text transform="translate(232.4 871.7) scale(0.93 1)" font-size="9.7" fill="#000" stroke="#000" stroke-width="0.25">20</text><text transform="translate(271.4 871.7) scale(0.93 1)" font-size="9.7" fill="#000" stroke="#000" stroke-width="0.25">28</text><text transform="translate(301.4 871.7) scale(0.93 1)" font-size="9.7" fill="#000" stroke="#000" stroke-width="0.25">3</text><text transform="translate(339.4 871.7) scale(0.93 1)" font-size="9.7" fill="#000" stroke="#000" stroke-width="0.25">10</text><text transform="translate(377.4 871.7) scale(0.93 1)" font-size="9.7" fill="#000" stroke="#000" stroke-width="0.25">17</text><text transform="translate(415.4 871.7) scale(0.93 1)" font-size="9.7" fill="#000" stroke="#000" stroke-width="0.25">24</text><text transform="translate(453.4 871.7) scale(0.93 1)" font-size="9.7" fill="#000" stroke="#000" stroke-width="0.25">1</text><text transform="translate(491.4 871.7) scale(0.93 1)" font-size="9.7" fill="#000" stroke="#000" stroke-width="0.25">8</text><text transform="translate(529.4 871.7) scale(0.93 1)" font-size="9.7" fill="#000" stroke="#000" stroke-width="0.25">15</text><text transform="translate(567.4 871.7) scale(0.93 1)" font-size="9.7" fill="#000" stroke="#000" stroke-width="0.25">22</text><text transform="translate(605.4 871.7) scale(0.93 1)" font-size="9.7" fill="#000" stroke="#000" stroke-width="0.25">29</text><text transform="translate(643.4 871.7) scale(0.93 1)" font-size="9.7" fill="#000" stroke="#000" stroke-width="0.25">5</text><text transform="translate(681.4 871.7) scale(0.93 1)" font-size="9.7" fill="#000" stroke="#000" stroke-width="0.25">12</text><text transform="translate(719.4 871.7) scale(0.93 1)" font-size="9.7" fill="#000" stroke="#000" stroke-width="0.25">19</text><text transform="translate(757.4 871.7) scale(0.93 1)" font-size="9.7" fill="#000" stroke="#000" stroke-width="0.25">26</text><text transform="translate(795.4 871.7) scale(0.93 1)" font-size="9.7" fill="#000" stroke="#000" stroke-width="0.25">3</text><text transform="translate(833.4 871.7) scale(0.93 1)" font-size="9.7" fill="#000" stroke="#000" stroke-width="0.25">10</text><text transform="translate(870.4 871.7) scale(0.93 1)" font-size="9.7" fill="#000" stroke="#000" stroke-width="0.25">17</text><text transform="translate(909.4 871.7) scale(0.93 1)" font-size="9.7" fill="#000" stroke="#000" stroke-width="0.25">24</text><text transform="translate(931.4 871.7) scale(0.93 1)" font-size="9.7" fill="#000" stroke="#000" stroke-width="0.25">31</text><text transform="translate(962.4 871.7) scale(0.93 1)" font-size="9.7" fill="#000" stroke="#000" stroke-width="0.25">7</text><text transform="translate(1000.4 871.7) scale(0.93 1)" font-size="9.7" fill="#000" stroke="#000" stroke-width="0.25">14</text><text transform="translate(1038.4 871.7) scale(0.93 1)" font-size="9.7" fill="#000" stroke="#000" stroke-width="0.25">21</text><text transform="translate(1076.4 871.7) scale(0.93 1)" font-size="9.7" fill="#000" stroke="#000" stroke-width="0.25">28</text><text transform="translate(1114.4 871.7) scale(0.93 1)" font-size="9.7" fill="#000" stroke="#000" stroke-width="0.25">4</text><text transform="translate(1152.4 871.7) scale(0.93 1)" font-size="9.7" fill="#000" stroke="#000" stroke-width="0.25">11</text><text transform="translate(1190.4 871.7) scale(0.93 1)" font-size="9.7" fill="#000" stroke="#000" stroke-width="0.25">18</text><text transform="translate(1228.4 871.7) scale(0.93 1)" font-size="9.7" fill="#000" stroke="#000" stroke-width="0.25">25</text><text transform="translate(1265.4 871.7) scale(0.93 1)" font-size="9.7" fill="#000" stroke="#000" stroke-width="0.25">4</text><text transform="translate(1304.4 871.7) scale(0.93 1)" font-size="9.7" fill="#000" stroke="#000" stroke-width="0.25">11</text><text transform="translate(1341.4 871.7) scale(0.93 1)" font-size="9.7" fill="#000" stroke="#000" stroke-width="0.25">18</text><text transform="translate(1380.4 871.7) scale(0.93 1)" font-size="9.7" fill="#000" stroke="#000" stroke-width="0.25">25</text><text transform="translate(1410.4 871.7) scale(0.93 1)" font-size="9.7" fill="#000" stroke="#000" stroke-width="0.25">2</text><text transform="translate(1441.4 871.7) scale(0.93 1)" font-size="9.7" fill="#000" stroke="#000" stroke-width="0.25">8</text><text transform="translate(1479.4 871.7) scale(0.93 1)" font-size="9.7" fill="#000" stroke="#000" stroke-width="0.25">15</text><text transform="translate(1516.4 871.7) scale(0.93 1)" font-size="9.7" fill="#000" stroke="#000" stroke-width="0.25">22</text><text transform="translate(1555.4 871.7) scale(0.93 1)" font-size="9.7" fill="#000" stroke="#000" stroke-width="0.25">29</text><text transform="translate(1592.4 871.7) scale(0.93 1)" font-size="9.7" fill="#000" stroke="#000" stroke-width="0.25">7</text><text transform="translate(1623.4 871.7) scale(0.93 1)" font-size="9.7" fill="#000" stroke="#000" stroke-width="0.25">13</text><text transform="translate(1661.4 871.7) scale(0.93 1)" font-size="9.7" fill="#000" stroke="#000" stroke-width="0.25">20</text><text transform="translate(1699.4 871.7) scale(0.93 1)" font-size="9.7" fill="#000" stroke="#000" stroke-width="0.25">28</text><text transform="translate(1729.4 871.7) scale(0.93 1)" font-size="9.7" fill="#000" stroke="#000" stroke-width="0.25">3</text><text transform="translate(1767.4 871.7) scale(0.93 1)" font-size="9.7" fill="#000" stroke="#000" stroke-width="0.25">10</text><text transform="translate(1805.4 871.7) scale(0.93 1)" font-size="9.7" fill="#000" stroke="#000" stroke-width="0.25">17</text><text transform="translate(1843.4 871.7) scale(0.93 1)" font-size="9.7" fill="#000" stroke="#000" stroke-width="0.25">2</text><text transform="translate(135.2 884.4) scale(0.93 1)" font-size="9.7" fill="#000" stroke="#000" stroke-width="0.25">August</text><text transform="translate(302.2 884.4) scale(0.93 1)" font-size="9.7" fill="#000" stroke="#000" stroke-width="0.25">September</text><text transform="translate(454.2 884.4) scale(0.93 1)" font-size="9.7" fill="#000" stroke="#000" stroke-width="0.25">October</text><text transform="translate(628.2 884.4) scale(0.93 1)" font-size="9.7" fill="#000" stroke="#000" stroke-width="0.25">November</text><text transform="translate(796.2 884.4) scale(0.93 1)" font-size="9.7" fill="#000" stroke="#000" stroke-width="0.25">December</text><text transform="translate(940.2 884.4) scale(0.93 1)" font-size="9.7" fill="#000" stroke="#000" stroke-width="0.25">2013</text><text transform="translate(1107.2 884.4) scale(0.93 1)" font-size="9.7" fill="#000" stroke="#000" stroke-width="0.25">February</text><text transform="translate(1259.2 884.4) scale(0.93 1)" font-size="9.7" fill="#000" stroke="#000" stroke-width="0.25">March</text><text transform="translate(1411.2 884.4) scale(0.93 1)" font-size="9.7" fill="#000" stroke="#000" stroke-width="0.25">April</text><text transform="translate(1571.2 884.4) scale(0.93 1)" font-size="9.7" fill="#000" stroke="#000" stroke-width="0.25">May</text><text transform="translate(1730.2 884.4) scale(0.93 1)" font-size="9.7" fill="#000" stroke="#000" stroke-width="0.25">June</text><text x="804.8" y="9.9" font-size="9.8" fill="#000" textLength="238.7" lengthAdjust="spacingAndGlyphs" stroke="#000" stroke-width="0.1">CARILLION (247.600, 249.000, 245.100, 246.600, +0.10001)</text><text x="858.5" y="717" font-size="9.8" fill="#000" textLength="130.5" lengthAdjust="spacingAndGlyphs" stroke="#000" stroke-width="0.1">Relative Strength Index(31.7896)</text><text transform="translate(87.2 59.5) scale(0.95 1)" font-size="9" fill="#0000ff" text-anchor="end" stroke="#0000ff" stroke-width="0.25">0.0%</text><text transform="translate(87.2 199.5) scale(0.95 1)" font-size="9" fill="#0000ff" text-anchor="end" stroke="#0000ff" stroke-width="0.25">23.6%</text><text transform="translate(87.2 285.5) scale(0.95 1)" font-size="9" fill="#0000ff" text-anchor="end" stroke="#0000ff" stroke-width="0.25">38.2%</text><text transform="translate(87.2 355.5) scale(0.95 1)" font-size="9" fill="#0000ff" text-anchor="end" stroke="#0000ff" stroke-width="0.25">50.0%</text><text transform="translate(87.2 425.5) scale(0.95 1)" font-size="9" fill="#0000ff" text-anchor="end" stroke="#0000ff" stroke-width="0.25">61.8%</text><text transform="translate(87.2 652.5) scale(0.95 1)" font-size="9" fill="#0000ff" text-anchor="end" stroke="#0000ff" stroke-width="0.25">100.0%</text><text x="1524.4" y="606.7" font-size="13.33" fill="#0000ff" textLength="211.6" lengthAdjust="spacingAndGlyphs">possible long with stops below 244</text><text x="1524.4" y="622.8" font-size="13.33" fill="#0000ff" textLength="190.8" lengthAdjust="spacingAndGlyphs">This was from the tips section a</text><text x="1524.4" y="639.1" font-size="13.33" fill="#0000ff" textLength="90.3" lengthAdjust="spacingAndGlyphs">few weeks ago</text></g>
</svg></body></html>
